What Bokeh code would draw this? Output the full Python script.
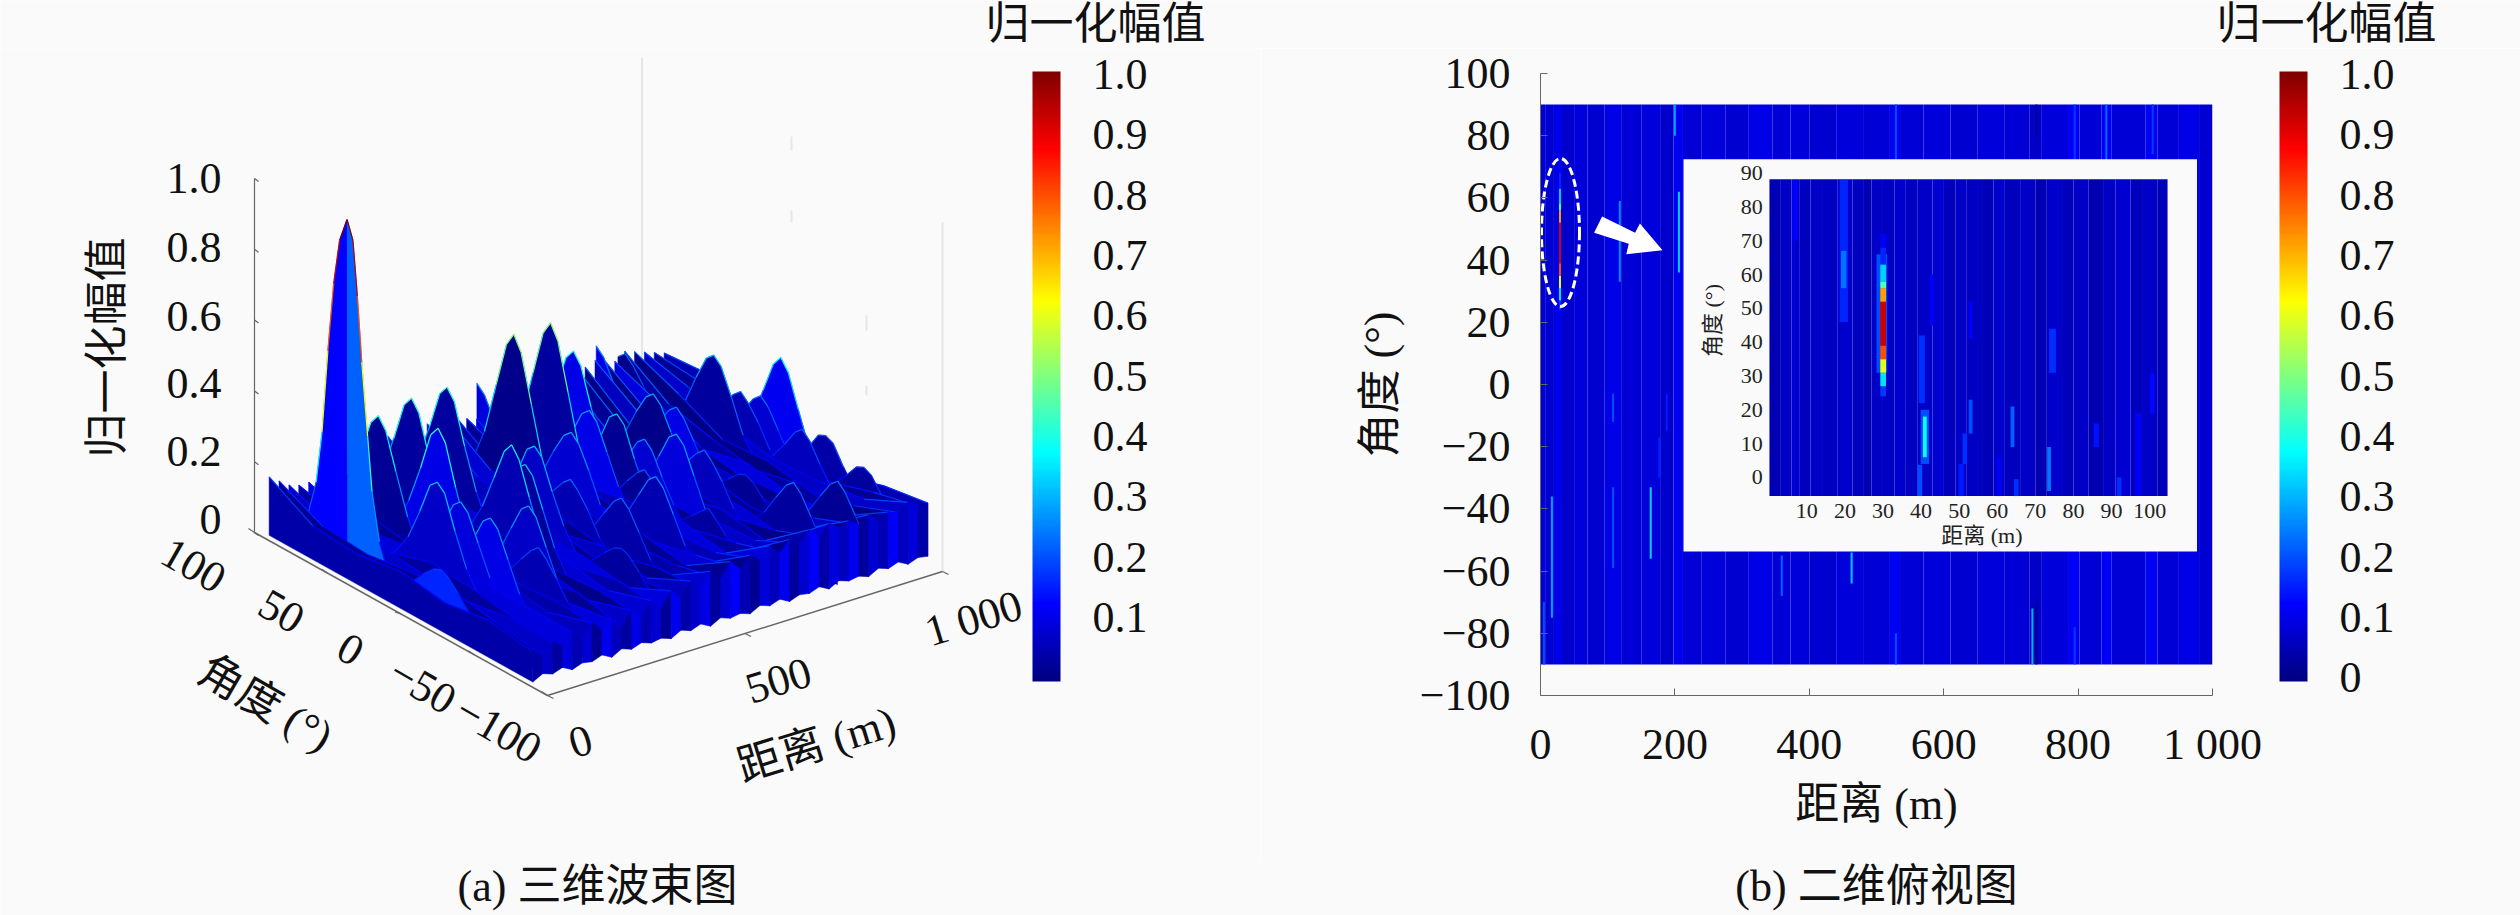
import numpy as np
from bokeh.embed import file_html
from bokeh.resources import INLINE
from bokeh.plotting import figure
from bokeh.layouts import row, column
from bokeh.models import Range1d, ColorBar, LinearColorMapper, FixedTicker
from bokeh.core.properties import value

FONT = "Liberation Serif, Noto Sans CJK SC"
BG = "#fafafa"

# ---------- colour bar ----------
cbar_ticks_left = [0.1, 0.2, 0.3, 0.4, 0.5, 0.6, 0.7, 0.8, 0.9, 1.0]
cbar_ticks_right = [0, 0.1, 0.2, 0.3, 0.4, 0.5, 0.6, 0.7, 0.8, 0.9, 1.0]
cbar_title = "归一化幅值"

# ---------- 3D view: base sheets of the surface ----------
base_angles = [90, 60, 30, 0, -30, -60, -90]
base_range = [0, 25, 50, 75, 100, 125, 150, 175, 200, 225, 250, 275, 300, 325, 350, 375, 400, 425, 450, 475,
              500, 525, 550, 575, 600, 625, 650, 675, 700, 725, 750, 775, 800, 825, 850, 875, 900, 925, 950, 975, 1000]
base_height = [
    [.18, .11, .10, .12, .10, .12, .10], [.16, .10, .09, .11, .12, .10, .08], [.14, .09, .11, .10, .09, .11, .11],
    [.13, .10, .08, .12, .11, .09, .09], [.13, .08, .10, .09, .12, .12, .12], [.15, .11, .09, .11, .09, .10, .09],
    [.17, .10, .11, .10, .11, .09, .13], [.15, .09, .10, .12, .10, .11, .10], [.18, .11, .09, .09, .12, .10, .12],
    [.16, .10, .12, .11, .09, .12, .09], [.14, .09, .10, .10, .11, .09, .13], [.17, .12, .09, .12, .10, .11, .10],
    [.19, .10, .11, .09, .12, .10, .14], [.17, .11, .10, .11, .09, .12, .11], [.15, .09, .12, .10, .11, .09, .15],
    [.18, .10, .09, .12, .10, .11, .12], [.19, .12, .11, .09, .12, .10, .16], [.17, .09, .10, .11, .09, .12, .13],
    [.19, .11, .12, .10, .11, .09, .17], [.18, .10, .09, .12, .10, .11, .14], [.17, .12, .11, .09, .12, .10, .18],
    [.16, .09, .10, .11, .09, .12, .15], [.18, .11, .12, .10, .11, .09, .18], [.19, .10, .09, .12, .10, .11, .16],
    [.17, .12, .11, .09, .12, .10, .19], [.20, .09, .10, .11, .09, .12, .16], [.18, .11, .12, .10, .11, .09, .19],
    [.19, .10, .09, .12, .10, .11, .17], [.20, .12, .11, .09, .12, .10, .20], [.21, .09, .10, .11, .09, .12, .17],
    [.20, .11, .12, .10, .11, .09, .20], [.22, .13, .09, .12, .10, .11, .18], [.21, .12, .11, .09, .12, .10, .19],
    [.22, .14, .10, .11, .09, .12, .17], [.21, .13, .12, .10, .11, .09, .19], [.20, .15, .09, .12, .10, .11, .16],
    [.22, .14, .11, .09, .12, .10, .18], [.21, .16, .10, .11, .09, .12, .17], [.20, .17, .12, .10, .11, .13, .19],
    [.19, .18, .11, .12, .10, .14, .17], [.18, .19, .13, .12, .11, .15, .17]]
base_floor = [.015, .03, .02, .03, .015, .025, .02, .03, .015, .03, .02, .03, .02, .025, .015, .03, .02, .03, .015, .03,
              .02, .025, .015, .03, .02, .03, .015, .025, .02, .03, .015, .03, .02, .025, .015, .03, .02, .03, .015, .025, .02]
base_shade = [.04, .02, .07, .03, .09, .01, .06, .04, .09, .02, .07, .01, .08, .04, .09, .02, .06, .01, .08, .04,
              .02, .08, .01, .05, .09, .03, .01, .07, .04, .01, .08, .02, .005, .06, .01, .09, .03, .005, .07, .02, .05]
wall_shade = [.04, .07, .03, .09, .05, .08, .02, .11, .06, .03, .10, .05, .08, .02, .11, .04, .07, .10, .03, .08,
              .12, .05, .02, .09, .06, .11, .03, .08, .12, .04, .09, .06, .11, .03, .08, .05, .12, .06, .09, .04]

# ---------- 3D view: ridges (range, peak angle, heights at offsets, shade) ----------
ridge_offsets = [30, 20, 12, 5, 0, -5, -12, -20, -30]
ridge_range = [128, 212, 302, 526, 471, 564, 622, 828, 883, 940, 960, 970, 980, 960, 990, 990,
               115, 212, 447, 534, 771, 846, 168, 505, 114, 92, 731, 630, 588, 635, 660, 375, 280, 8,
               429, 598, 798, 790, 200, 373, 296, 602, 750, 790]
ridge_peak = [50, 50, 50, 90, 50, 50, 50, 90, 85, 40, 27, 16, 5, -15, -23, -49,
              -30, -30, -30, -30, -60, -70, 20, 20, -10, 0, -10, -40, 30, 5, -10, 10, 0, -25,
              0, -5, -20, -50, -40, -50, -5, 15, 30, 25]
ridge_height = [
    [.07, .16, .27, .37, .40, .37, .27, .16, .07], [.07, .17, .28, .39, .42, .39, .28, .17, .07],
    [.07, .17, .28, .39, .42, .39, .28, .17, .07], [.06, .12, .18, .24, .26, .24, .18, .12, .06],
    [.07, .19, .34, .47, .51, .47, .34, .19, .07], [.07, .19, .34, .47, .51, .47, .34, .19, .07],
    [.07, .17, .28, .38, .41, .38, .28, .17, .07], [.06, .12, .18, .24, .26, .24, .18, .12, .06],
    [.06, .11, .17, .21, .23, .21, .17, .11, .06], [.07, .13, .22, .29, .31, .29, .22, .13, .07],
    [.06, .11, .17, .21, .23, .21, .17, .11, .06], [.06, .11, .17, .22, .24, .22, .17, .11, .06],
    [.07, .15, .25, .34, .37, .34, .25, .15, .07], [.06, .10, .15, .20, .22, .20, .15, .10, .06],
    [.06, .10, .15, .20, .21, .20, .15, .10, .06], [.06, .09, .13, .17, .18, .17, .13, .09, .06],
    [.07, .13, .21, .28, .30, .28, .21, .13, .07], [.07, .13, .21, .28, .30, .28, .21, .13, .07],
    [.06, .11, .17, .22, .24, .22, .17, .11, .06], [.06, .12, .19, .25, .27, .25, .19, .12, .06],
    [.06, .11, .17, .22, .24, .22, .17, .11, .06], [.06, .11, .17, .22, .24, .22, .17, .11, .06],
    [.07, .17, .28, .39, .42, .39, .28, .17, .07], [.07, .13, .21, .27, .29, .27, .21, .13, .07],
    [.07, .13, .21, .28, .30, .28, .21, .13, .07], [.07, .14, .23, .32, .34, .32, .23, .14, .07],
    [.06, .11, .17, .21, .23, .21, .17, .11, .06], [.06, .09, .12, .15, .17, .15, .12, .09, .06],
    [.07, .13, .21, .28, .30, .28, .21, .13, .07], [.06, .12, .18, .24, .26, .24, .18, .12, .06],
    [.07, .13, .21, .28, .30, .28, .21, .13, .07], [.07, .14, .22, .30, .32, .30, .22, .14, .07],
    [.07, .16, .26, .35, .38, .35, .26, .16, .07], [.06, .10, .14, .17, .18, .17, .14, .10, .06],
    [.06, .11, .17, .21, .23, .21, .17, .11, .06], [.06, .10, .15, .19, .21, .19, .15, .10, .06],
    [.06, .09, .12, .15, .16, .15, .12, .09, .06], [.06, .08, .10, .11, .12, .11, .10, .08, .06],
    [.06, .10, .15, .19, .21, .19, .15, .10, .06], [.06, .09, .13, .16, .17, .16, .13, .09, .06],
    [.07, .14, .23, .31, .33, .31, .23, .14, .07], [.07, .14, .22, .30, .32, .30, .22, .14, .07],
    [.07, .13, .21, .27, .29, .27, .21, .13, .07], [.06, .12, .18, .23, .25, .23, .18, .12, .06]]
ridge_shade = [.02, .03, .03, .09, .01, .03, .10, .10, .01, .03, .05, .08, .11, .06, .04, .03,
               .10, .07, .04, .05, .03, .02, .10, .08, .09, .07, .06, .03, .10, .08, .09, .07, .05, .16,
               .05, .02, .02, .00, .05, .03, .03, .02, .01, .10]

# main lobe of the beam
lobe_range = 30
lobe_angle = [72, 66, 62, 58, 54, 50, 45, 41, 38, 35, 31, 28, 23, 18]
lobe_height = [.10, .21, .36, .60, .80, .93, 1.0, .95, .80, .62, .42, .27, .14, .08]

z_ticks = [0, 0.2, 0.4, 0.6, 0.8, 1.0]
z_tick_labels = ["0", "0.2", "0.4", "0.6", "0.8", "1.0"]
a_ticks = [100, 50, 0, -50, -100]
a_tick_labels = ["100", "50", "0", "−50", "−100"]
r_ticks = [0, 500, 1000]
r_tick_labels = ["0", "500", "1 000"]

# ---------- top view ----------
top_x_ticks = [0, 200, 400, 600, 800, 1000]
top_y_ticks = [-100, -80, -60, -40, -20, 0, 20, 40, 60, 80, 100]
top_band_r = [0, 8, 20, 32, 50, 70, 95, 120, 150, 178, 198, 212, 240, 275, 310, 345, 372, 400, 440, 480,
              520, 535, 570, 610, 650, 690, 728, 745, 785, 802, 835, 850, 900, 918, 950, 980]
top_band_v = [.09, .08, .10, .075, .09, .08, .10, .085, .09, .075, .11, .085, .09, .08, .10, .085, .09, .08, .09, .085,
              .115, .085, .09, .08, .09, .085, .07, .09, .12, .085, .12, .085, .115, .085, .10, .08]
top_streak_r = [118, 206, 108, 108, 164, 177, 17, 5, 188, 359, 463, 529, 795, 842, 911, 200, 732, 529, 795, 738, 738]
top_streak_a0 = [33, 36, -12, -59, -56, -30, -75, -90, -15, -68, -64, 70, 72, 72, 74, 80, -90, -90, -90, -90, 80]
top_streak_a1 = [59, 62, -3, -33, -33, -17, -36, -70, -3, -55, -54, 90, 90, 90, 90, 90, -72, -80, -78, -70, 90]
top_streak_v = [.26, .33, .2, .2, .33, .16, .28, .2, .15, .22, .32, .2, .18, .23, .18, .28, .3, .2, .18, .02, .02]

# the strongest target (shared by the top view and the inset)
core_a0 = [24, 27, 31, 35, 39, 52, 56, 58, 63, 68]
core_a1 = [27, 31, 35, 39, 52, 56, 58, 63, 68, 72]
core_v = [.18, .35, .6, .8, .92, .72, .46, .33, .16, .12]

inset_x_ticks = [10, 20, 30, 40, 50, 60, 70, 80, 90, 100]
inset_y_ticks = [0, 10, 20, 30, 40, 50, 60, 70, 80, 90]
inset_band_r = [0.2, 3, 6, 8, 11, 14, 18, 22, 25, 27, 30, 33, 36, 39, 43, 46, 49, 52, 56, 59, 62, 66, 70, 73, 77, 80, 84, 88, 91, 95, 98, 102]
inset_band_v = [.05, .07, .08, .06, .07, .065, .075, .065, .05, .07, .065, .075, .065, .07, .08, .06, .07, .065, .055, .075, .06, .07, .05, .075, .06, .07, .05, .07, .08, .06, .07, .055]
inset_streak_r = [29.7, 39.7, 40.2, 41, 19.7, 19.7, 53, 51.5, 50.5, 64, 65, 60.5, 73.6, 74.5, 86, 92, 100.7, 97, 7, 42.8, 53, 41]
inset_streak_a0 = [31, -5.5, 22, 4, 46, 56, 13, 4, -5.5, 9, -5.5, -5.5, -4, 31, 9, -5.5, 19, -5.5, 70, 45, 41, 6]
inset_streak_a1 = [66, 3.7, 42, 20, 88, 67, 23, 13, 4, 21, -0.5, 6, 9, 44, 16, 0, 31, 19, 88, 60, 52, 18]
inset_streak_w = [2.8, 1.2, 1.6, 2.2, 2.2, 1.4, 1, 1.2, 1.4, 1, 1.2, 1.2, 1, 1.8, 1.4, 1.2, 1.2, 1.6, 1.4, 1, 1, 1.0]
inset_streak_v = [.2, .2, .17, .2, .16, .24, .2, .17, .15, .22, .17, .12, .24, .17, .14, .17, .13, .12, .12, .12, .12, .38]


def jet(t):
    t = float(np.clip(t, 0, 1))
    c = [np.clip(1.5 - abs(4 * t - k), 0, 1) for k in (3, 2, 1)]
    return "#%02x%02x%02x" % tuple(int(round(255 * v)) for v in c)


palette = [jet(i / 255) for i in range(256)]


def proj(r, a, z):
    u = a + 100
    return 547 + .395 * r - 1.465 * u, 695 - .124 * r - .815 * u - 354 * z


def canvas(width, height, xr, yr):
    f = figure(width=width, height=height, x_range=Range1d(*xr), y_range=Range1d(*yr),
               output_backend="svg", toolbar_location=None, x_axis_type=None, y_axis_type=None,
               min_border=0, min_border_left=0, min_border_right=0, min_border_top=0, min_border_bottom=0,
               background_fill_color=BG, border_fill_color=BG, outline_line_color=None)
    f.frame_align = False
    f.grid.visible = False
    return f


TOP_H, BOTTOM_Y = 48, 860
strip_top = canvas(2520, TOP_H, (0, 2520), (TOP_H, 0))
strip_bottom = canvas(2520, 915 - BOTTOM_Y, (0, 2520), (915, BOTTOM_Y))
left = canvas(1260, BOTTOM_Y - TOP_H, (0, 1260), (BOTTOM_Y, TOP_H))


def text(fig, x, y, s, size=44, angle=0, align="center"):
    fig.text([x], [y], text=[s], text_font=value(FONT), text_font_size=f"{size}px", text_color="#111111",
             angle=[np.deg2rad(angle)], text_align=align, text_baseline="middle")


# back walls' faint grid
for gx, y0, y1 in [(641.5, 57, 370), (791, 136, 150), (791, 210, 222), (866, 315, 330), (866, 385, 395), (942, 222, 571)]:
    left.line([gx, gx], [y0, y1], line_color="#e6e6e6", line_width=2)

# axes
ax_col = "#666666"
xs0, ys0 = proj(0, 100, 0)
xs1, ys1 = proj(0, -100, 0)
xs2, ys2 = proj(1000, -100, 0)
xt, yt = proj(0, 100, 1)
left.line([xs0, xs1, xs2], [ys0, ys1, ys2], line_color=ax_col, line_width=1.5)
left.line([xs0, xt], [ys0, yt], line_color=ax_col, line_width=1.2)
for z in z_ticks:
    x, y = proj(0, 100, z)
    left.line([x, x + 4], [y, y + 3], line_color=ax_col, line_width=1.2)
for a in a_ticks:
    x, y = proj(0, a, 0)
    left.line([x, x - 6], [y, y - 4 if a else y - 2], line_color=ax_col, line_width=1.2)
for r in r_ticks:
    x, y = proj(r, -100, 0)
    left.line([x, x + 6], [y, y + 3], line_color=ax_col, line_width=1.2)

# painter's order: far sheets first
fins = []
for i, r in enumerate(base_range):
    fins.append((r, base_angles, base_height[i], base_floor[i], base_shade[i]))
for i, r in enumerate(ridge_range):
    ang = [ridge_peak[i] + o for o in ridge_offsets]
    keep = [j for j, a in enumerate(ang) if -90 <= a <= 90]
    fins.append((r, [ang[j] for j in keep], [ridge_height[i][j] for j in keep], .02, ridge_shade[i]))
k = lobe_angle.index(45)
fins.append((lobe_range + .5, lobe_angle[k:], lobe_height[k:], .02, .22))
fins.append((lobe_range, lobe_angle[:k + 1], lobe_height[:k + 1], .02, .125))
fins.sort(key=lambda f: -f[0])

for r, ang, hgt, flr, shade in fins:
    top = [proj(r, a, h) for a, h in zip(ang, hgt)]
    lo1 = proj(r, ang[-1], flr)
    lo0 = proj(r, ang[0], flr)
    xs = [t[0] for t in top] + [lo1[0], lo0[0]]
    ys = [t[1] for t in top] + [lo1[1], lo0[1]]
    left.patch(xs, ys, fill_color=jet(shade), line_color=jet(shade), line_width=.5)
    seg_x = [[top[j][0], top[j + 1][0]] for j in range(len(top) - 1)]
    seg_y = [[top[j][1], top[j + 1][1]] for j in range(len(top) - 1)]
    seg_c = [jet(max(hgt[j], hgt[j + 1])) for j in range(len(top) - 1)]
    left.multi_line(seg_x, seg_y, line_color=seg_c, line_width=1.2)

# front wall at the last angle
for i in range(len(base_range) - 1):
    r0, r1 = base_range[i], base_range[i + 1]
    a = proj(r0, -90, base_floor[i])
    b = proj(r0, -90, base_height[i][-1])
    c = proj(r1, -90, base_height[i + 1][-1])
    d = proj(r1, -90, base_floor[i + 1])
    left.patch([a[0], b[0], c[0], d[0]], [a[1], b[1], c[1], d[1]], fill_color=jet(wall_shade[i]),
               line_color=jet(wall_shade[i]), line_width=.5)

# 3D tick labels
for s, y in zip(z_tick_labels, [519, 451, 383, 316, 247, 178]):
    text(left, 221, y, s, align="right")
for s, (x, y) in zip(a_tick_labels, [(193, 565), (281, 611), (350, 649), (422, 685.5), (498, 729)]):
    text(left, x, y, s, angle=-30)
for s, (x, y) in zip(r_tick_labels, [(580, 741), (778, 680), (973, 618)]):
    text(left, x, y, s, angle=17)
text(left, 107, 347, "归一化幅值", angle=90)
text(left, 265, 703, "角度 (°)", angle=-30)
text(left, 816, 744, "距离 (m)", angle=17)
text(strip_bottom, 597, 886, "(a) 三维波束图")
text(strip_top, 1095, 24, cbar_title)

mapper = LinearColorMapper(palette=palette, low=-.006, high=1.005)


def add_cbar(fig, ticks, loc, overrides):
    cb = ColorBar(color_mapper=mapper, ticker=FixedTicker(ticks=ticks), major_label_overrides=overrides,
                  location=loc, width=28, height=610, label_standoff=32, major_label_text_font=FONT,
                  major_label_text_font_size="44px", major_label_text_color="#111111", major_tick_line_color=None,
                  minor_tick_line_color=None, bar_line_color=None, border_line_color=None,
                  background_fill_color=None, padding=0, margin=0)
    fig.add_layout(cb)


add_cbar(left, cbar_ticks_left, (1032, BOTTOM_Y - 681), {1.0: "1.0"})

# ---------- right panel ----------
right = figure(width=1260, height=BOTTOM_Y - TOP_H, x_range=Range1d(0, 1000), y_range=Range1d(-100, 100),
               output_backend="svg", toolbar_location=None, min_border_left=280, min_border_right=308,
               min_border_top=73 - TOP_H, min_border_bottom=BOTTOM_Y - 695, background_fill_color=BG,
               border_fill_color=BG, outline_line_color=None)
right.frame_align = False
right.grid.visible = False
right.extra_x_ranges = {"ix": Range1d(-59.9, 116.5)}
right.extra_y_ranges = {"iy": Range1d(-64.5, 119.5)}
for ax, ticks in ((right.xaxis[0], top_x_ticks), (right.yaxis[0], top_y_ticks)):
    ax.ticker = FixedTicker(ticks=ticks)
    ax.major_tick_in = 7
    ax.major_tick_out = 0
    ax.minor_tick_line_color = None
    ax.axis_line_color = ax_col
    ax.major_tick_line_color = ax_col
    ax.major_label_text_font = FONT
    ax.major_label_text_font_size = "44px"
    ax.major_label_text_color = "#111111"
    ax.major_label_standoff = 30
    ax.axis_label_text_font = FONT
    ax.axis_label_text_font_size = "44px"
    ax.axis_label_text_font_style = "normal"
    ax.axis_label_text_color = "#111111"
    ax.axis_label_standoff = 12
right.xaxis[0].major_label_standoff = 24
right.xaxis[0].axis_label_standoff = 8
right.xaxis[0].major_label_overrides = {1000: "1 000"}
right.yaxis[0].major_label_overrides = {t: f"−{-t}" for t in top_y_ticks if t < 0}
right.xaxis[0].axis_label = "距离 (m)"
right.yaxis[0].axis_label = "角度 (°)"

band_r1 = top_band_r[1:] + [1000]
right.quad(left=top_band_r, right=band_r1, bottom=-90, top=90, fill_color=[jet(v) for v in top_band_v], line_color=None)
right.quad(left=[r - 1.5 for r in top_streak_r], right=[r + 1.5 for r in top_streak_r], bottom=top_streak_a0,
           top=top_streak_a1, fill_color=[jet(v) for v in top_streak_v], line_color=None)
right.quad(left=[27.5] * len(core_v), right=[30.5] * len(core_v), bottom=core_a0, top=core_a1,
           fill_color=[jet(v) for v in core_v], line_color=None)


def mx(X):
    return (X - 1540) / .672


def my(Y):
    return 100 - (Y - 73) / 3.11


# inset panel
right.quad(left=mx(1683), right=mx(2196.5), bottom=my(551), top=my(158.7), fill_color=BG, line_color=None)
ins = dict(x_range_name="ix", y_range_name="iy")
ib1 = inset_band_r[1:] + [104.7]
right.quad(left=inset_band_r, right=ib1, bottom=-5.5, top=88.2, fill_color=[jet(v) for v in inset_band_v],
           line_color=None, **ins)
right.quad(left=[r - w / 2 for r, w in zip(inset_streak_r, inset_streak_w)],
           right=[r + w / 2 for r, w in zip(inset_streak_r, inset_streak_w)],
           bottom=inset_streak_a0, top=inset_streak_a1, fill_color=[jet(v) for v in inset_streak_v],
           line_color=None, **ins)
right.quad(left=[29.3] * len(core_v), right=[30.8] * len(core_v), bottom=core_a0, top=core_a1,
           fill_color=[jet(v) for v in core_v], line_color=None, **ins)
right.text(inset_x_ticks, [-5.5] * 10, text=[str(t) for t in inset_x_ticks], y_offset=15, text_align="center",
           text_baseline="middle", text_font=value(FONT), text_font_size="22px", text_color="#222222", **ins)
right.text([0] * 10, inset_y_ticks, text=[str(t) for t in inset_y_ticks], x_offset=-6, text_align="right",
           text_baseline="middle", text_font=value(FONT), text_font_size="22px", text_color="#222222", **ins)
right.text([mx(1981.4)], [my(535)], text=["距离 (m)"], text_align="center", text_baseline="middle",
           text_font=value(FONT), text_font_size="22px", text_color="#222222")
right.text([mx(1712)], [my(320)], text=["角度 (°)"], angle=[np.pi / 2], text_align="center", text_baseline="middle",
           text_font=value(FONT), text_font_size="22px", text_color="#222222")

# ellipse and arrow marks
right.ellipse(x=[mx(1560)], y=[my(232)], width=[38 / .672], height=[148 / 3.11], fill_color=None,
              line_color="#ffffff", line_width=3, line_dash="8 4")
arrow_X = [1601.6, 1593.6, 1628.2, 1625.8, 1662, 1639.4, 1634.6]
arrow_Y = [215.9, 232.2, 243.3, 253.8, 249.7, 222.9, 232.2]
right.patch([mx(v) for v in arrow_X], [my(v) for v in arrow_Y], fill_color="#ffffff", line_color=None)

text(strip_bottom, 1876, 886, "(b) 二维俯视图")
text(strip_top, 2326, 24, cbar_title)
add_cbar(right, cbar_ticks_right, (739, 14), {0: "0", 1.0: "1.0"})

page = column(strip_top, row(left, right, spacing=0), strip_bottom, spacing=0)
open("out.html", "w").write(file_html(page, INLINE))
